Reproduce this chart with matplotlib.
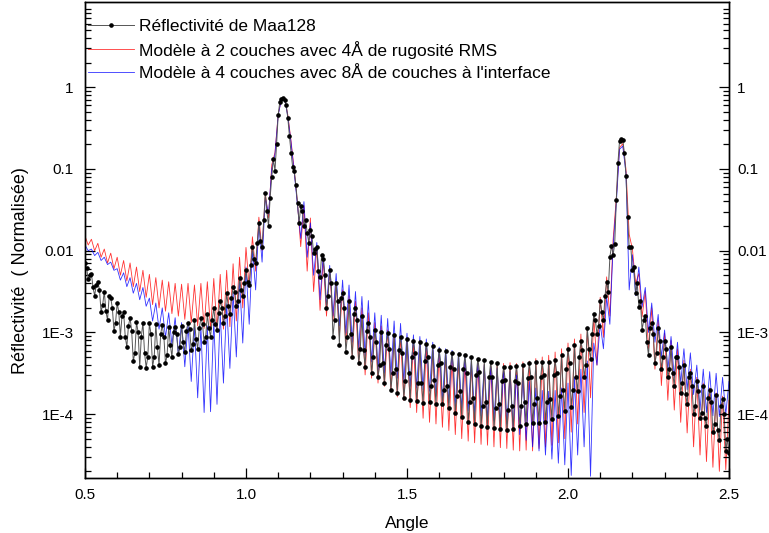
import numpy as np
import matplotlib
matplotlib.use('Agg')
import matplotlib.pyplot as plt
from matplotlib.ticker import FixedLocator, FixedFormatter, LogLocator, MultipleLocator, NullFormatter

plt.rcParams['font.family'] = ['Liberation Sans', 'DejaVu Sans']

#%% data (log10 of normalised reflectivity)
angle_data = np.round(np.arange(0.5, 2.5001, 0.005), 3)
angle_model = np.round(np.arange(0.5, 2.5001, 0.01), 2)

log_maa128 = [
    -2.15, -2.21, -2.35, -2.30, -2.28, -2.45, -2.55, -2.42, -2.38, -2.48, -2.75, -2.66, -2.50, -2.74, -2.85, -2.56, -2.58, -2.70, -2.98, -2.88,
    -2.64, -2.75, -3.05, -2.80, -2.75, -3.05, -3.18, -2.92, -2.82, -2.98, -3.35, -3.25, -2.87, -3.00, -3.42, -3.05, -2.88, -3.25, -3.43, -3.30,
    -2.89, -3.02, -3.42, -3.30, -2.90, -3.18, -3.40, -3.02, -2.91, -3.05, -3.38, -3.28, -2.93, -3.15, -3.30, -3.00, -2.93, -3.02, -3.27, -3.18,
    -2.92, -3.12, -3.24, -2.98, -2.88, -2.96, -3.22, -3.14, -2.85, -3.08, -3.20, -2.95, -2.82, -2.90, -3.12, -3.05, -2.78, -2.95, -3.05, -2.85,
    -2.70, -2.90, -2.97, -2.76, -2.62, -2.70, -2.88, -2.80, -2.52, -2.68, -2.78, -2.58, -2.45, -2.50, -2.68, -2.62, -2.34, -2.48, -2.55, -2.40,
    -2.24, -2.38, -2.42, -2.18, -1.95, -2.10, -2.15, -1.90, -1.66, -1.88, -1.96, -1.62, -1.30, -1.52, -1.70, -1.35, -1.10, -0.88, -1.02, -0.70,
    -0.34, -0.18, -0.14, -0.13, -0.15, -0.22, -0.38, -0.60, -0.80, -0.98, -1.03, -1.20, -1.42, -1.66, -1.45, -1.52, -1.70, -1.62, -1.78, -1.90,
    -1.75, -1.82, -2.03, -1.98, -1.96, -2.25, -2.32, -2.05, -2.10, -2.30, -2.70, -2.55, -2.24, -2.40, -3.06, -2.85, -2.40, -2.62, -3.15, -2.58,
    -2.52, -2.70, -3.24, -3.05, -2.62, -3.02, -3.30, -2.78, -2.70, -2.85, -3.38, -3.20, -2.80, -3.22, -3.42, -2.98, -2.88, -3.05, -3.50, -3.30,
    -2.97, -3.12, -3.55, -3.40, -2.99, -3.38, -3.62, -3.15, -3.01, -3.20, -3.70, -3.50, -3.03, -3.45, -3.74, -3.22, -3.05, -3.25, -3.80, -3.60,
    -3.08, -3.50, -3.83, -3.30, -3.10, -3.25, -3.84, -3.62, -3.12, -3.62, -3.86, -3.35, -3.14, -3.30, -3.85, -3.65, -3.17, -3.58, -3.87, -3.40,
    -3.22, -3.38, -3.88, -3.70, -3.23, -3.65, -3.92, -3.42, -3.25, -3.45, -3.98, -3.78, -3.26, -3.72, -4.04, -3.45, -3.28, -3.50, -4.10, -3.85,
    -3.30, -3.80, -4.12, -3.52, -3.32, -3.48, -4.14, -3.90, -3.34, -3.85, -4.16, -3.55, -3.36, -3.55, -4.17, -3.92, -3.38, -3.88, -4.18, -3.60,
    -3.42, -3.58, -4.20, -3.95, -3.42, -3.90, -4.18, -3.60, -3.41, -3.62, -4.15, -3.90, -3.40, -3.85, -4.12, -3.56, -3.38, -3.55, -4.11, -3.88,
    -3.36, -3.80, -4.11, -3.55, -3.36, -3.52, -4.10, -3.85, -3.36, -3.82, -4.06, -3.52, -3.34, -3.50, -4.02, -3.78, -3.28, -3.70, -3.96, -3.45,
    -3.20, -3.38, -3.91, -3.70, -3.15, -3.55, -3.72, -3.30, -3.10, -3.22, -3.55, -3.40, -2.95, -3.20, -3.32, -3.02, -2.78, -2.85, -3.02, -2.92,
    -2.62, -2.75, -2.85, -2.55, -2.38, -2.50, -2.08, -1.94, -2.05, -1.92, -1.38, -0.93, -0.66, -0.63, -0.64, -0.80, -1.08, -1.59, -1.96, -1.95,
    -2.24, -2.20, -2.52, -2.40, -2.69, -2.62, -2.97, -2.85, -2.80, -3.12, -3.28, -2.95, -2.88, -3.02, -3.38, -3.25, -2.95, -3.10, -3.45, -3.30,
    -3.10, -3.20, -3.55, -3.45, -3.18, -3.50, -3.65, -3.30, -3.30, -3.42, -3.74, -3.62, -3.40, -3.75, -3.88, -3.55, -3.50, -3.65, -4.00, -3.90,
    -3.60, -3.72, -4.05, -3.98, -3.66, -4.05, -4.15, -3.80, -3.70, -3.85, -4.22, -4.12, -3.76, -4.20, -4.32, -3.90, -3.82, -4.00, -4.45, -4.30,
    -4.48]

log_2couches = [
    -1.82, -1.93, -1.86, -2.00, -1.91, -2.08, -1.98, -2.15, -2.03, -2.22,
    -2.08, -2.30, -2.12, -2.37, -2.15, -2.44, -2.20, -2.50, -2.24, -2.57,
    -2.29, -2.66, -2.33, -2.70, -2.36, -2.74, -2.38, -2.77, -2.40, -2.80,
    -2.41, -2.84, -2.40, -2.88, -2.42, -2.92, -2.40, -2.95, -2.38, -2.97,
    -2.34, -2.98, -2.29, -2.96, -2.24, -2.93, -2.16, -2.86, -2.08, -2.70,
    -1.96, -2.45, -1.83, -2.25, -1.59, -2.00, -1.30, -1.60, -0.95, -0.80,
    -0.33, -0.15, -0.14, -0.34, -0.66, -1.02, -1.42, -1.95, -1.45, -2.25,
    -1.60, -2.50, -1.96, -2.73, -2.10, -2.80, -2.24, -2.86, -2.38, -3.05,
    -2.48, -3.15, -2.55, -3.30, -2.62, -3.40, -2.70, -3.52, -2.76, -3.56,
    -2.88, -3.62, -2.92, -3.66, -2.97, -3.72, -3.02, -3.79, -3.05, -3.83,
    -3.10, -3.92, -3.12, -3.98, -3.15, -4.05, -3.18, -4.10, -3.22, -4.12,
    -3.26, -4.16, -3.28, -4.20, -3.32, -4.25, -3.34, -4.30, -3.36, -4.33,
    -3.38, -4.35, -3.37, -4.37, -3.39, -4.38, -3.38, -4.40, -3.39, -4.41,
    -3.38, -4.42, -3.37, -4.44, -3.38, -4.45, -3.36, -4.44, -3.35, -4.45,
    -3.32, -4.42, -3.30, -4.40, -3.28, -4.38, -3.24, -4.35, -3.20, -4.30,
    -3.13, -4.22, -3.08, -4.12, -3.02, -3.98, -2.95, -3.80, -2.81, -3.40,
    -2.57, -3.06, -2.32, -2.80, -1.87, -1.35, -0.74, -0.69, -1.00, -1.80,
    -1.98, -2.40, -2.28, -2.81, -2.50, -3.20, -2.70, -3.45, -2.85, -3.65,
    -3.01, -3.83, -3.10, -3.95, -3.20, -4.10, -3.34, -4.23, -3.45, -4.40,
    -3.55, -4.50, -3.62, -4.58, -3.68, -4.65, -3.74, -4.70, -3.78, -4.68,
    -3.83]

log_4couches = [
    -1.93, -2.00, -1.98, -2.06, -2.02, -2.12, -2.08, -2.17, -2.14, -2.24,
    -2.22, -2.36, -2.27, -2.44, -2.33, -2.52, -2.40, -2.60, -2.45, -2.68,
    -2.58, -2.86, -2.64, -2.96, -2.70, -3.06, -2.76, -3.15, -2.82, -3.28,
    -2.88, -3.42, -2.90, -3.60, -2.92, -3.80, -2.93, -3.98, -2.92, -3.97,
    -2.85, -3.88, -2.76, -3.62, -2.65, -3.44, -2.52, -3.30, -2.34, -3.13,
    -2.20, -2.90, -1.99, -2.48, -1.66, -2.14, -1.35, -1.55, -1.00, -0.82,
    -0.34, -0.15, -0.14, -0.36, -0.68, -1.05, -1.45, -1.85, -1.40, -2.08,
    -1.66, -2.30, -1.90, -2.60, -2.05, -2.69, -2.18, -2.80, -2.28, -2.92,
    -2.36, -3.01, -2.42, -3.12, -2.50, -3.20, -2.56, -3.28, -2.61, -3.36,
    -2.76, -3.46, -2.79, -3.50, -2.83, -3.52, -2.86, -3.56, -2.89, -3.60,
    -3.01, -3.66, -3.03, -3.68, -3.05, -3.70, -3.08, -3.72, -3.12, -3.78,
    -3.18, -3.83, -3.20, -3.86, -3.22, -3.90, -3.25, -3.93, -3.30, -3.96,
    -3.34, -3.99, -3.37, -4.02, -3.40, -4.06, -3.42, -4.08, -3.44, -4.10,
    -3.46, -4.12, -3.48, -4.18, -3.52, -4.25, -3.55, -4.32, -3.60, -4.40,
    -3.68, -4.45, -3.71, -4.50, -3.72, -4.55, -3.71, -4.60, -3.68, -4.62,
    -3.62, -4.75, -3.55, -4.50, -3.45, -4.40, -3.35, -4.76, -3.13, -3.40,
    -2.89, -3.20, -2.57, -2.90, -1.95, -1.42, -0.76, -0.72, -1.05, -2.48,
    -2.05, -2.55, -2.20, -2.69, -2.45, -3.00, -2.64, -3.12, -2.78, -3.30,
    -2.97, -3.46, -3.05, -3.55, -3.12, -3.62, -3.20, -3.70, -3.25, -3.76,
    -3.40, -3.95, -3.45, -3.98, -3.48, -4.02, -3.50, -4.03, -3.55, -4.00,
    -3.60]

labels = ["Réflectivité de Maa128",
          "Modèle à 2 couches avec 4Å de rugosité RMS",
          "Modèle à 4 couches avec 8Å de couches à l'interface"]

yticks = [1e-4, 1e-3, 1e-2, 0.1, 1]
yticklabels = ['1E-4', '1E-3', '0.01', '0.1', '1']
ylim = (1.65e-5, 11)

#%% plotting
fig = plt.figure(figsize=(7.69, 5.33), dpi=100)
ax = fig.add_axes([0.1105, 0.103, 0.8375, 0.893])

ax.plot(angle_data, 10 ** np.array(log_maa128), color='#555555', lw=0.7,
        marker='o', ms=2.3, mfc='black', mec='black', label=labels[0], zorder=4)
ax.plot(angle_model, 10 ** np.array(log_2couches), color='red', lw=0.6,
        alpha=0.8, label=labels[1], zorder=2)
ax.plot(angle_model, 10 ** np.array(log_4couches), color='blue', lw=0.6,
        alpha=0.8, label=labels[2], zorder=3)

ax.set_xlim(0.5, 2.5)
ax2 = ax.twinx()
for a in (ax, ax2):
    a.set_yscale('log')
    a.set_ylim(*ylim)
    a.yaxis.set_major_locator(FixedLocator(yticks))
    a.yaxis.set_major_formatter(FixedFormatter(yticklabels))
    a.yaxis.set_minor_locator(LogLocator(base=10, subs=np.arange(2, 10), numticks=20))
    a.yaxis.set_minor_formatter(NullFormatter())
    for sp in a.spines.values():
        sp.set_linewidth(1.0)

ax.xaxis.set_major_locator(MultipleLocator(0.5))
ax.xaxis.set_minor_locator(MultipleLocator(0.1))

ax.tick_params(axis='both', which='both', direction='in', top=False,
               right=False, labelsize=11, width=0.9)
ax.tick_params(axis='both', which='major', length=7)
ax.tick_params(axis='both', which='minor', length=4)
ax.tick_params(axis='y', which='major', pad=8)
ax.tick_params(axis='x', which='major', pad=7)

ax2.tick_params(axis='y', which='both', direction='in', labelsize=11, width=0.9)
ax2.tick_params(axis='y', which='major', length=7, pad=6)
ax2.tick_params(axis='y', which='minor', length=4)

ax.set_xlabel('Angle', fontsize=12.5)
ax.set_ylabel('Réflectivité  ( Normalisée)', fontsize=13)
ax.xaxis.set_label_coords(0.5, -0.079)
ax.yaxis.set_label_coords(-0.087, 0.437)

leg = ax.legend(loc='upper left', bbox_to_anchor=(0.0, 0.973), frameon=False,
                fontsize=12.5, handlelength=2.6, handletextpad=0.3,
                borderaxespad=0, borderpad=0.2, labelspacing=0.4, numpoints=1)

fig.savefig('out.png', dpi=100)
